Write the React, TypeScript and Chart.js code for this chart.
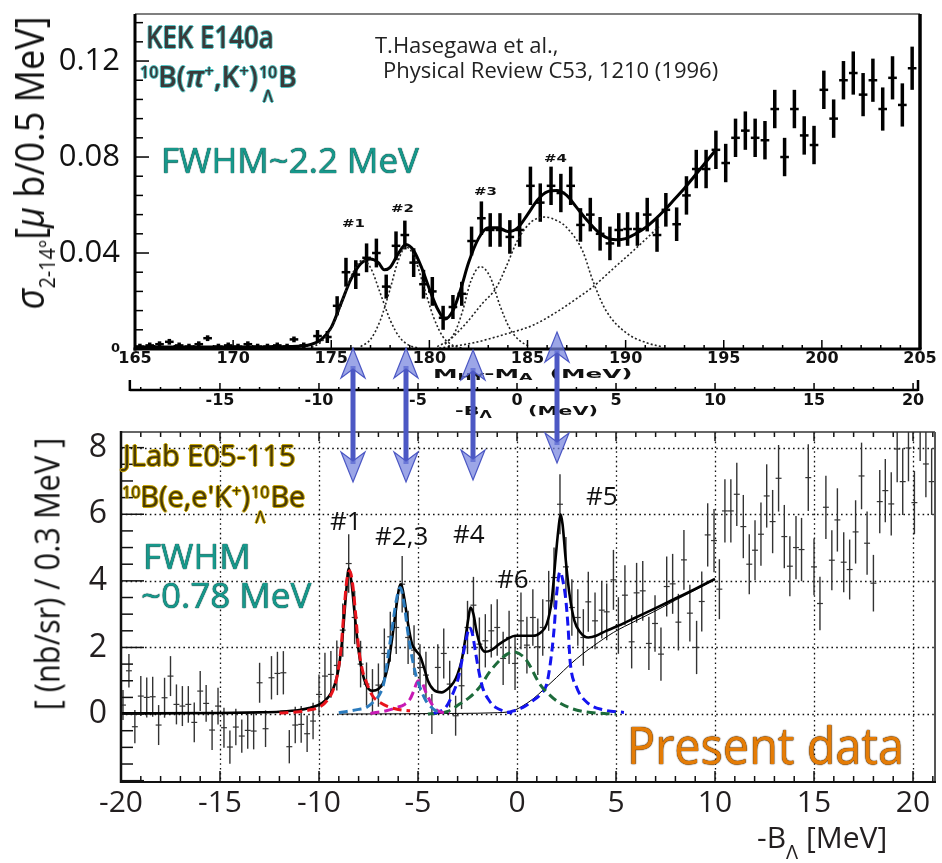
import React, { useEffect, useRef } from "react";
import { Chart, registerables } from "chart.js";

Chart.register(...registerables);

const OPEN = '"Open Sans", "DejaVu Sans", sans-serif';
const DEJA = '"DejaVu Sans", sans-serif';

// ================= Top panel : KEK E140a (pi+,K+) =================
const kekMass = [
  165.25, 165.75, 166.25, 166.75, 167.25, 167.75, 168.25, 168.7, 169.25, 169.75,
  170.25, 170.75, 171.25, 171.75, 172.25, 172.75, 173.1, 173.6,
  174.3, 174.8, 175.3, 175.75, 176.25, 176.8, 177.3, 177.8, 178.3, 178.75,
  179.2, 179.7, 180.15, 180.7, 181.2, 181.65, 182.15, 182.65, 183.1, 183.6,
  184.1, 184.6, 185.15, 185.65, 186.2, 186.7, 187.2, 187.7, 188.2, 188.7,
  189.2, 189.65, 190.1, 190.6, 191.1, 191.6, 192.05, 192.6, 193.1, 193.6,
  194.1, 194.6, 195.1, 195.6, 196.1, 196.6, 197.1, 197.6, 198.1, 198.6,
  199.1, 199.6, 200.1, 200.6, 201.1, 201.6, 202.1, 202.6, 203.1, 203.6,
  204.1, 204.6,
];
const kekSigma = [
  0.001, 0.0015, 0.002, 0.003, 0.0015, 0.001, 0.002, 0.0045, 0.001, 0.0015,
  0.001, 0.002, 0.001, 0.001, 0.0015, 0.001, 0.004, 0.0015,
  0.0054, 0.005, 0.018, 0.032, 0.031, 0.038, 0.04, 0.026, 0.043, 0.0475,
  0.036, 0.027, 0.024, 0.013, 0.0175, 0.023, 0.045, 0.0545, 0.0496, 0.0496,
  0.0467, 0.0496, 0.068, 0.061, 0.068, 0.065, 0.068, 0.0517, 0.056, 0.048,
  0.044, 0.0496, 0.05, 0.05, 0.056, 0.0475, 0.058, 0.052, 0.064, 0.075,
  0.075, 0.083, 0.0775, 0.088, 0.091, 0.088, 0.087, 0.1, 0.08, 0.1,
  0.089, 0.085, 0.108, 0.096, 0.112, 0.115, 0.106, 0.112, 0.1, 0.113,
  0.1017, 0.117,
];
const kekSigmaErr = [
  0.0012, 0.0012, 0.0012, 0.0012, 0.0012, 0.0012, 0.0012, 0.0012, 0.0012, 0.0012,
  0.0012, 0.0012, 0.0012, 0.0012, 0.0012, 0.0012, 0.0012, 0.0012,
  0.0025, 0.0025, 0.004, 0.006, 0.006, 0.006, 0.006, 0.005, 0.006, 0.006,
  0.006, 0.006, 0.006, 0.005, 0.005, 0.005, 0.006, 0.007, 0.007, 0.007,
  0.007, 0.007, 0.008, 0.008, 0.008, 0.008, 0.008, 0.007, 0.007, 0.007,
  0.007, 0.007, 0.007, 0.007, 0.007, 0.007, 0.007, 0.007, 0.008, 0.008,
  0.008, 0.008, 0.008, 0.008, 0.008, 0.008, 0.008, 0.008, 0.008, 0.008,
  0.008, 0.008, 0.008, 0.008, 0.008, 0.009, 0.009, 0.009, 0.009, 0.009,
  0.009, 0.009,
];
const kekFitMass = [
  165, 170, 173, 174, 174.5, 175, 175.5, 176, 176.5, 177,
  177.4, 177.7, 178, 178.4, 178.8, 179.2, 179.6, 180, 180.4, 180.8,
  181.2, 181.6, 182, 182.5, 183, 183.5, 184, 184.5, 185, 185.5,
  186, 186.5, 187, 187.5, 188, 188.5, 189, 189.5, 190, 190.5,
  191, 191.5, 192, 192.5, 193, 193.5, 194, 194.6,
];
const kekFitSigma = [
  0.0008, 0.0008, 0.001, 0.002, 0.004, 0.009, 0.019, 0.029, 0.0355, 0.0375,
  0.036, 0.033, 0.034, 0.0395, 0.0435, 0.041, 0.034, 0.025, 0.017, 0.0125,
  0.016, 0.025, 0.036, 0.046, 0.0505, 0.0505, 0.049, 0.0505, 0.056, 0.062,
  0.0655, 0.066, 0.064, 0.059, 0.054, 0.0495, 0.0465, 0.0455, 0.046, 0.048,
  0.0505, 0.054, 0.058, 0.0625, 0.067, 0.072, 0.077, 0.083,
];
const kekPeak1Mass = [174, 174.5, 175, 175.5, 176, 176.6, 177, 177.5, 178, 178.5, 179, 179.5];
const kekPeak1Sigma = [0.0007, 0.003, 0.0085, 0.0185, 0.03, 0.037, 0.0339, 0.0232, 0.0121, 0.0047, 0.0014, 0.0003];
const kekPeak2Mass = [176.5, 177, 177.5, 178, 178.4, 178.8, 179.2, 179.7, 180.2, 180.7, 181.2, 181.7];
const kekPeak2Sigma = [0.001, 0.004, 0.012, 0.025, 0.0365, 0.0425, 0.039, 0.0265, 0.0135, 0.005, 0.0015, 0.0003];
const kekPeak3Mass = [180.8, 181.3, 181.7, 182.1, 182.6, 183.1, 183.6, 184.1, 184.6, 185.1];
const kekPeak3Sigma = [0.002, 0.007, 0.016, 0.028, 0.0343, 0.03, 0.018, 0.0085, 0.0035, 0.001];
const kekPeak4Mass = [180.4, 181.05, 181.9, 182.7, 183.4, 183.9, 184.5, 185.2, 185.9, 186.5, 186.95, 187.8, 188.35, 189, 190.05, 191.1, 191.8];
const kekPeak4Sigma = [0.001, 0.004, 0.011, 0.019, 0.0254, 0.034, 0.0454, 0.053, 0.055, 0.0535, 0.051, 0.041, 0.028, 0.016, 0.0066, 0.0025, 0.001];
const kekBgMass = [180.5, 182.2, 183.8, 185.3, 186.6, 187.5, 188.35, 189.3, 190.4, 191.7];
const kekBgSigma = [0.0003, 0.0025, 0.006, 0.01, 0.016, 0.021, 0.026, 0.033, 0.041, 0.051];

const kekMassTicks = [165, 170, 175, 180, 185, 190, 195, 200, 205];
const kekBindingTicks = [-15, -10, -5, 0, 5, 10, 15, 20];
const kekSigmaTicks = [0, 0.04, 0.08, 0.12];

// ================= Bottom panel : JLab E05-115 (e,e'K+) =================
const jlabBL = [
  -19.9, -19.6, -19.3, -19.0, -18.7, -18.4, -18.1, -17.8, -17.5, -17.2,
  -16.9, -16.6, -16.3, -16.0, -15.7, -15.4, -15.1, -14.8, -14.5, -14.2,
  -13.9, -13.6, -13.3, -13.0, -12.7, -12.4, -12.1, -11.8, -11.5, -11.2,
  -10.9, -10.6, -10.3, -10.0, -9.7, -9.4, -9.1, -8.8, -8.5, -8.2,
  -7.9, -7.6, -7.3, -7.0, -6.7, -6.4, -6.1, -5.8, -5.5, -5.2,
  -4.9, -4.6, -4.3, -4.0, -3.7, -3.4, -3.1, -2.8, -2.5, -2.2,
  -1.9, -1.6, -1.3, -1.0, -0.7, -0.4, -0.1, 0.2, 0.5, 0.8,
  1.05, 1.3, 1.6, 1.87, 2.17, 2.47, 2.77, 3.07, 3.35, 3.6,
  3.94, 4.28, 4.53, 4.87, 5.12, 5.45, 5.79, 6.04, 6.35, 6.66,
  6.97, 7.27, 7.56, 7.86, 8.15, 8.43, 8.73, 9.07, 9.33, 9.63,
  9.95, 10.22, 10.5, 10.8, 11.1, 11.43, 11.73, 12.02, 12.32, 12.61,
  12.91, 13.21, 13.5, 13.78, 14.09, 14.37, 14.71, 15.0, 15.3, 15.6,
  15.9, 16.18, 16.5, 16.8, 17.1, 17.4, 17.68, 18.0, 18.32, 18.6,
  18.9, 19.2, 19.48, 19.77, 20.07, 20.36, 20.65, 20.94,
];
const jlabCounts = [
  0.27, 1.3, -0.38, 0.54, 0.5, 0.52, -0.33, 0.49, 1.14, 0.29,
  0.24, 0.29, -0.25, 0.69, 0.32, -0.48, 0.24, -0.41, -0.99, -0.39,
  -0.66, -0.49, -0.51, 0.94, -0.44, 1.09, 1.22, 1.24, -0.98, -0.33,
  -0.31, -0.59, -0.21, 0.59, 1.14, 1.19, 1.46, 2.52, 4.52, 2.9,
  1.5, 0.9, 0.7, 0.87, 1.82, 2.32, 2.6, 3.9, 2.3, 1.92,
  1.4, 1.17, 0.0, 1.4, 1.82, 0.9, -0.05, 0.85, 2.6, 3.27,
  2.1, 2.2, 2.5, 2.6, 1.67, 2.3, 1.52, 2.8, 2.07, 2.9,
  2.02, 2.6, 3.4, 4.1, 6.3, 4.42, 3.2, 2.9, 2.3, 3.37,
  2.8, 3.12, 3.07, 4.03, 2.66, 3.57, 2.17, 3.64, 3.7, 2.12,
  2.72, 1.8, 3.83, 3.91, 2.76, 4.63, 3.03, 2.0, 3.38, 5.38,
  5.21, 3.75, 6.1, 6.1, 6.6, 5.63, 4.5, 4.92, 5.4, 6.55,
  5.78, 7.08, 5.33, 4.44, 5.0, 4.94, 7.1, 4.42, 3.32, 6.21,
  4.62, 5.83, 4.56, 4.34, 5.47, 7.15, 5.13, 3.93, 6.38, 6.71,
  6.31, 7.96, 6.98, 7.99, 6.35, 8.6, 7.51, 6.98,
];
const jlabErr = [
  0.45, 0.5, 0.5, 0.6, 0.6, 0.6, 0.6, 0.6, 0.6, 0.6,
  0.6, 0.55, 0.6, 0.6, 0.55, 0.6, 0.55, 0.6, 0.5, 0.55,
  0.5, 0.55, 0.55, 0.6, 0.55, 0.65, 0.65, 0.65, 0.5, 0.55,
  0.55, 0.55, 0.55, 0.6, 0.7, 0.7, 0.75, 0.8, 0.88, 0.8,
  0.7, 0.65, 0.65, 0.65, 0.75, 0.75, 0.8, 0.85, 0.8, 0.75,
  0.7, 0.7, 0.6, 0.7, 0.75, 0.7, 0.6, 0.7, 0.8, 0.85,
  0.8, 0.8, 0.8, 0.85, 0.8, 0.8, 0.8, 0.85, 0.85, 0.85,
  0.85, 0.85, 0.9, 0.9, 0.9, 0.9, 0.85, 0.85, 0.85, 0.9,
  0.85, 0.85, 0.85, 0.9, 0.85, 0.9, 0.8, 0.9, 0.9, 0.8,
  0.85, 0.8, 0.9, 0.9, 0.85, 0.9, 0.85, 0.8, 0.9, 0.95,
  0.95, 0.9, 0.95, 0.95, 0.95, 0.95, 0.9, 0.9, 0.95, 0.95,
  0.95, 1.0, 0.95, 0.9, 0.95, 0.95, 1.0, 0.85, 0.8, 0.95,
  0.9, 0.95, 0.9, 0.9, 0.95, 1.0, 0.95, 0.85, 0.95, 0.95,
  0.95, 1.0, 1.0, 1.0, 0.95, 1.0, 1.0, 1.0,
];
const fitTotalBL = [
  -20, -15, -13, -12, -11, -10.5, -10, -9.7, -9.4, -9.2,
  -9.0, -8.8, -8.65, -8.5, -8.35, -8.2, -8.0, -7.85, -7.6, -7.3,
  -7.0, -6.75, -6.5, -6.3, -6.1, -5.95, -5.85, -5.7, -5.5, -5.3,
  -5.1, -4.9, -4.7, -4.5, -4.2, -3.8, -3.5, -3.2, -3.0, -2.8,
  -2.6, -2.45, -2.35, -2.2, -2.05, -1.85, -1.6, -1.3, -0.9, -0.5,
  -0.1, 0.3, 0.8, 1.2, 1.5, 1.75, 1.95, 2.1, 2.2, 2.3,
  2.45, 2.65, 2.9, 3.2, 3.6, 4.0, 4.5, 5.0, 6, 7,
  8, 9, 10,
];
const fitTotalCounts = [
  0.02, 0.03, 0.05, 0.07, 0.12, 0.18, 0.28, 0.4, 0.62, 0.9,
  1.4, 2.4, 3.5, 4.37, 3.9, 3.0, 1.9, 1.35, 0.85, 0.7,
  0.75, 0.95, 1.5, 2.3, 3.2, 3.8, 3.9, 3.5, 2.7, 2.1,
  1.9, 1.75, 1.4, 1.0, 0.72, 0.65, 0.75, 0.95, 1.2, 1.6,
  2.3, 2.9, 3.2, 3.0, 2.5, 2.05, 1.87, 1.92, 2.1, 2.25,
  2.35, 2.35, 2.35, 2.45, 2.7, 3.4, 4.7, 5.6, 6.0, 5.7,
  4.7, 3.6, 2.8, 2.45, 2.3, 2.35, 2.5, 2.62, 2.9, 3.18,
  3.47, 3.76, 4.06,
];
const fitBgBL = [-9, -3, -1, -0.5, -0.1, 0.3, 0.8, 1.35, 2.0, 2.7, 3.3, 3.87, 4.87, 6, 7, 8, 9, 10];
const fitBgCounts = [0.0, 0.02, 0.04, 0.06, 0.12, 0.25, 0.45, 0.74, 1.1, 1.5, 1.8, 2.05, 2.45, 2.8, 3.1, 3.42, 3.72, 4.03];
const peak1BL = [-12, -11, -10.5, -10, -9.6, -9.3, -9.1, -8.9, -8.75, -8.6, -8.45, -8.3, -8.15, -8.0, -7.8, -7.6, -7.3, -7.0, -6.5, -6.0, -5.4];
const peak1Counts = [0.03, 0.07, 0.12, 0.2, 0.4, 0.7, 1.1, 1.9, 3.0, 4.0, 4.3, 3.9, 3.0, 2.0, 1.3, 0.95, 0.55, 0.38, 0.22, 0.14, 0.1];
const peak2BL = [-9.0, -8.0, -7.6, -7.2, -6.93, -6.7, -6.5, -6.3, -6.1, -5.9, -5.7, -5.5, -5.3, -5.1, -4.9, -4.6, -4.4, -4.1, -3.9];
const peak2Counts = [0.04, 0.14, 0.2, 0.4, 0.6, 1.0, 1.8, 2.6, 3.4, 3.8, 3.3, 2.4, 1.7, 1.15, 0.8, 0.4, 0.25, 0.1, 0.05];
const peak3BL = [-7.4, -6.6, -6.05, -5.7, -5.4, -5.2, -5.0, -4.8, -4.6, -4.3, -4.0, -3.4];
const peak3Counts = [0.02, 0.1, 0.2, 0.28, 0.45, 0.72, 1.0, 0.95, 0.65, 0.3, 0.1, 0.02];
const peak4BL = [-4.2, -3.6, -3.25, -3.0, -2.75, -2.55, -2.4, -2.25, -2.08, -1.9, -1.74, -1.4, -1.08, -0.6, -0.24];
const peak4Counts = [0.02, 0.2, 0.6, 1.0, 1.7, 2.3, 2.6, 2.4, 1.8, 1.2, 0.8, 0.4, 0.2, 0.08, 0.03];
const peak6BL = [-4.5, -3.5, -2.9, -2.4, -1.9, -1.4, -0.9, -0.5, -0.2, 0.1, 0.5, 1.13, 1.6, 2.06, 2.7, 3.41, 4.4, 5.0];
const peak6Counts = [0.0, 0.08, 0.3, 0.5, 0.8, 1.25, 1.6, 1.8, 1.87, 1.82, 1.6, 0.92, 0.6, 0.37, 0.18, 0.07, 0.02, 0.0];
const peak5BL = [-0.5, 0.3, 0.8, 1.2, 1.5, 1.7, 1.88, 2.0, 2.17, 2.35, 2.47, 2.58, 2.68, 3.0, 3.5, 4.4, 5.4];
const peak5Counts = [0.04, 0.2, 0.4, 0.6, 0.9, 1.6, 2.6, 3.6, 4.27, 3.9, 3.4, 2.6, 1.6, 0.82, 0.37, 0.12, 0.05];

const jlabXTicks = [-20, -15, -10, -5, 0, 5, 10, 15, 20];
const jlabYTicks = [0, 2, 4, 6, 8];

// arrows linking the peaks (page x, top tip y, bottom tip y)
const linkArrows = [
  [353, 348, 482],
  [406, 348, 482],
  [473, 350, 480],
  [557, 332, 463],
];

// ---------------- helpers ----------------
const xy = (xs: number[], ys: number[]) => xs.map((x, i) => ({ x, y: ys[i] }));

const curve = (label: string, xs: number[], ys: number[], color: string, width: number, dash: number[] = []) => ({
  label,
  data: xy(xs, ys),
  showLine: true,
  borderColor: color,
  backgroundColor: color,
  borderWidth: width,
  borderDash: dash,
  pointRadius: 0,
  pointHoverRadius: 0,
  fill: false,
  cubicInterpolationMode: "monotone",
});

function line(ctx: CanvasRenderingContext2D, x1: number, y1: number, x2: number, y2: number) {
  ctx.beginPath();
  ctx.moveTo(x1, y1);
  ctx.lineTo(x2, y2);
  ctx.stroke();
}

const errorBarPlugin = {
  id: "errorBars",
  beforeDatasetsDraw(chart: any) {
    const { ctx, chartArea: a, scales } = chart;
    const sx = scales.x;
    const sy = scales.y;
    ctx.save();
    ctx.beginPath();
    ctx.rect(a.left, a.top, a.right - a.left, a.bottom - a.top);
    ctx.clip();
    chart.data.datasets.forEach((ds: any) => {
      const eb = ds.errorBars;
      if (!eb) return;
      ctx.strokeStyle = eb.color;
      ds.data.forEach((p: any, i: number) => {
        const e = eb.err[i];
        const px = sx.getPixelForValue(p.x);
        const py = sy.getPixelForValue(p.y);
        ctx.lineWidth = eb.width;
        line(ctx, px, sy.getPixelForValue(p.y - e), px, sy.getPixelForValue(p.y + e));
        ctx.lineWidth = eb.capWidth;
        line(ctx, sx.getPixelForValue(p.x - eb.halfBin), py, sx.getPixelForValue(p.x + eb.halfBin), py);
      });
    });
    ctx.restore();
  },
};

const kekFramePlugin = {
  id: "kekFrame",
  afterDatasetsDraw(chart: any) {
    const { ctx, chartArea: a, scales } = chart;
    const sx = scales.x;
    const sy = scales.y;
    const s2 = scales.x2;
    ctx.save();
    ctx.strokeStyle = "#000";
    ctx.lineWidth = 1.5;
    for (let k = 0; k <= 17; k++) {
      const py = sy.getPixelForValue(k * 0.008);
      line(ctx, a.left, py, a.left + (k % 5 === 0 ? 14 : 8), py);
    }
    for (let m = 165; m <= 205; m++) {
      const px = sx.getPixelForValue(m);
      line(ctx, px, a.bottom, px, a.bottom - (m % 5 === 0 ? 9 : 4));
    }
    ctx.strokeStyle = "#555";
    ctx.lineWidth = 1.5;
    line(ctx, a.left, a.top, a.right, a.top);
    ctx.strokeStyle = "#000";
    ctx.lineWidth = 3;
    line(ctx, a.left, a.top, a.left, a.bottom + 1.5);
    line(ctx, a.left - 1.5, a.bottom, a.right + 1.5, a.bottom);
    ctx.lineWidth = 3.5;
    line(ctx, a.right, a.top, a.right, a.bottom);
    // secondary -B_Lambda axis
    const yb = 390;
    const xl = s2.getPixelForValue(-19.55);
    const xr = s2.getPixelForValue(20.25);
    ctx.lineWidth = 2.5;
    line(ctx, xl, yb, xr, yb);
    line(ctx, xl, yb - 10, xl, yb + 1);
    line(ctx, xr, yb - 10, xr, yb + 1);
    ctx.lineWidth = 1.5;
    for (let b = -19; b <= 20; b++) {
      const px = s2.getPixelForValue(b);
      line(ctx, px, yb, px, yb - (b % 5 === 0 ? 7 : 3));
    }
    ctx.restore();
  },
};

const jlabFramePlugin = {
  id: "jlabFrame",
  beforeDatasetsDraw(chart: any) {
    const { ctx, chartArea: a, scales } = chart;
    const sx = scales.x;
    const sy = scales.y;
    ctx.save();
    ctx.strokeStyle = "#111";
    ctx.lineWidth = 1.3;
    ctx.setLineDash([1.6, 3.2]);
    for (let v = -15; v <= 20; v += 5) {
      const px = Math.round(sx.getPixelForValue(v)) + 0.5;
      line(ctx, px, a.top, px, a.bottom);
    }
    for (let v = 0; v <= 8; v += 2) {
      const py = Math.round(sy.getPixelForValue(v)) + 0.5;
      line(ctx, a.left, py, a.right, py);
    }
    ctx.restore();
  },
  afterDatasetsDraw(chart: any) {
    const { ctx, chartArea: a, scales } = chart;
    const sx = scales.x;
    const sy = scales.y;
    ctx.save();
    ctx.strokeStyle = "#111";
    ctx.lineWidth = 1.5;
    for (let v = -20; v <= 21; v++) {
      const px = sx.getPixelForValue(v);
      const major = v % 5 === 0;
      line(ctx, px, a.bottom, px, a.bottom - (major ? 11 : 6));
      line(ctx, px, a.top, px, a.top + (major ? 9 : 5));
    }
    for (let k = -4; k <= 16; k++) {
      const v = k * 0.5;
      const py = sy.getPixelForValue(v);
      const major = k % 4 === 0;
      line(ctx, a.left, py, a.left + (major ? 23 : 12), py);
    }
    ctx.lineWidth = 1.5;
    ctx.strokeStyle = "#333";
    line(ctx, a.left, a.top, a.right, a.top);
    ctx.lineWidth = 2;
    ctx.strokeStyle = "#555";
    line(ctx, a.right, a.top, a.right, a.bottom);
    ctx.strokeStyle = "#111";
    line(ctx, a.left, a.bottom, a.right + 1, a.bottom);
    ctx.lineWidth = 2.5;
    line(ctx, a.left, a.top - 1, a.left, a.bottom + 1);
    ctx.restore();
  },
};

const fixedAxis = (size: number, horizontal: boolean) => (s: any) => {
  if (horizontal) s.height = size;
  else s.width = size;
  s.paddingLeft = 0;
  s.paddingRight = 0;
  s.paddingTop = 0;
  s.paddingBottom = 0;
};

function makeTop(canvas: HTMLCanvasElement) {
  const bold = { family: DEJA, size: 16, weight: "bold" };
  return new Chart(canvas, {
    type: "scatter",
    data: {
      datasets: [
        {
          label: "KEK E140a data",
          data: xy(kekMass, kekSigma),
          showLine: false,
          pointRadius: 0,
          pointHoverRadius: 0,
          errorBars: { err: kekSigmaErr, width: 3.5, capWidth: 2.5, halfBin: 0.22, color: "#000" },
        } as any,
        curve("peak #1", kekPeak1Mass, kekPeak1Sigma, "#222", 1.6, [2, 2.2]),
        curve("peak #2", kekPeak2Mass, kekPeak2Sigma, "#222", 1.6, [2, 2.2]),
        curve("peak #3", kekPeak3Mass, kekPeak3Sigma, "#222", 1.6, [2, 2.2]),
        curve("peak #4", kekPeak4Mass, kekPeak4Sigma, "#222", 1.6, [2, 2.2]),
        curve("background", kekBgMass, kekBgSigma, "#222", 1.6, [2, 2.2]),
        curve("fit", kekFitMass, kekFitSigma, "#000", 3),
      ],
    },
    options: {
      animation: false,
      responsive: false,
      devicePixelRatio: 1,
      events: [],
      layout: { padding: { left: 0, right: 22, top: 14, bottom: 0 } },
      plugins: { legend: { display: false }, tooltip: { enabled: false } },
      scales: {
        x: {
          type: "linear",
          position: "bottom",
          weight: 0,
          min: 165,
          max: 205,
          afterBuildTicks: (s: any) => {
            s.ticks = kekMassTicks.map((v) => ({ value: v }));
          },
          afterFit: fixedAxis(30, true),
          grid: { display: false, drawTicks: false },
          border: { display: false },
          ticks: { padding: 0, font: bold, color: "#111", maxRotation: 0, autoSkip: false },
        },
        x2: {
          type: "linear",
          position: "bottom",
          weight: 1,
          min: -19.29,
          max: 20.35,
          afterBuildTicks: (s: any) => {
            s.ticks = kekBindingTicks.map((v) => ({ value: v }));
          },
          afterFit: fixedAxis(41, true),
          grid: { display: false, drawTicks: false },
          border: { display: false },
          ticks: { padding: 12, font: bold, color: "#111", maxRotation: 0, autoSkip: false },
        },
        y: {
          type: "linear",
          min: 0,
          max: 0.1396,
          afterBuildTicks: (s: any) => {
            s.ticks = kekSigmaTicks.map((v) => ({ value: v }));
          },
          afterFit: fixedAxis(135, false),
          grid: { display: false, drawTicks: false },
          border: { display: false },
          ticks: {
            padding: 15,
            autoSkip: false,
            color: "#111",
            font: (c: any) =>
              c.tick && c.tick.value === 0
                ? { family: DEJA, size: 13, weight: "bold" }
                : { family: OPEN, size: 31 },
          },
        },
      },
    } as any,
    plugins: [errorBarPlugin, kekFramePlugin],
  } as any);
}

function makeBottom(canvas: HTMLCanvasElement) {
  return new Chart(canvas, {
    type: "scatter",
    data: {
      datasets: [
        {
          label: "JLab E05-115 data",
          data: xy(jlabBL, jlabCounts),
          showLine: false,
          pointRadius: 0,
          pointHoverRadius: 0,
          errorBars: { err: jlabErr, width: 1.4, capWidth: 1.2, halfBin: 0.15, color: "#333" },
        } as any,
        curve("#1", peak1BL, peak1Counts, "#e8141c", 3, [9, 5]),
        curve("#2", peak2BL, peak2Counts, "#2b7bbd", 3, [9, 5]),
        curve("#3", peak3BL, peak3Counts, "#c81ab4", 3, [9, 5]),
        curve("#4", peak4BL, peak4Counts, "#1414f0", 3, [9, 5]),
        curve("#6", peak6BL, peak6Counts, "#1d6b3b", 3, [9, 5]),
        curve("#5", peak5BL, peak5Counts, "#1414f0", 3, [9, 5]),
        curve("background", fitBgBL, fitBgCounts, "#000", 1),
        curve("fit", fitTotalBL, fitTotalCounts, "#000", 2.6),
      ],
    },
    options: {
      animation: false,
      responsive: false,
      devicePixelRatio: 1,
      events: [],
      layout: { padding: { left: 0, right: 7, top: 12, bottom: 0 } },
      plugins: { legend: { display: false }, tooltip: { enabled: false } },
      scales: {
        x: {
          type: "linear",
          position: "bottom",
          min: -20,
          max: 21.11,
          afterBuildTicks: (s: any) => {
            s.ticks = jlabXTicks.map((v) => ({ value: v }));
          },
          afterFit: fixedAxis(81, true),
          grid: { display: false, drawTicks: false },
          border: { display: false },
          ticks: { padding: 3, font: { family: OPEN, size: 30 }, color: "#231f20", maxRotation: 0, autoSkip: false },
        },
        y: {
          type: "linear",
          min: -2.04,
          max: 8.47,
          afterBuildTicks: (s: any) => {
            s.ticks = jlabYTicks.map((v) => ({ value: v }));
          },
          afterFit: fixedAxis(121, false),
          grid: { display: false, drawTicks: false },
          border: { display: false },
          ticks: { padding: 14, font: { family: OPEN, size: 32 }, color: "#231f20", autoSkip: false },
        },
      },
    } as any,
    plugins: [jlabFramePlugin, errorBarPlugin],
  } as any);
}

const abs = (left: number, top: number, extra: any = {}) => ({
  position: "absolute" as const,
  left,
  top,
  lineHeight: 1,
  whiteSpace: "nowrap" as const,
  ...extra,
});

const Sup = ({ children, size, dy }: any) => (
  <span style={{ display: "inline-block", verticalAlign: "top", fontSize: size, lineHeight: 1, position: "relative", top: dy }}>
    {children}
  </span>
);

const Stack = ({ top, bottom, size, dy, gap }: any) => (
  <span
    style={{
      display: "inline-flex",
      flexDirection: "column",
      alignItems: "center",
      verticalAlign: "top",
      fontSize: size,
      lineHeight: 1,
      position: "relative",
      top: dy,
      margin: "0 1px",
    }}
  >
    <span>{top}</span>
    <span style={{ marginTop: gap }}>{bottom}</span>
  </span>
);

const cyanOutline = "-1px 0 #55c4c4, 1px 0 #55c4c4, 0 -1px #55c4c4, 0 1px #55c4c4";
const yellowOutline = "-1px 0 #c9a80a, 1px 0 #c9a80a, 0 -1px #c9a80a, 0 1px #c9a80a";
const darkEdge = "0 0 1px #063f3a, 0 0 1px #063f3a";
const teal = "#17988b";

export default function App() {
  const topRef = useRef<HTMLCanvasElement>(null);
  const botRef = useRef<HTMLCanvasElement>(null);

  useEffect(() => {
    const charts: Chart[] = [];
    if (topRef.current) charts.push(makeTop(topRef.current));
    if (botRef.current) charts.push(makeBottom(botRef.current));
    return () => charts.forEach((c) => c.destroy());
  }, []);

  return (
    <div style={{ position: "absolute", left: 0, top: 0, width: 942, height: 863, background: "#fff", overflow: "hidden" }}>
      <canvas ref={topRef} width={942} height={420} style={{ position: "absolute", left: 0, top: 0, width: 942, height: 420 }} />
      <canvas ref={botRef} width={942} height={443} style={{ position: "absolute", left: 0, top: 420, width: 942, height: 443 }} />

      {/* ---------- top panel texts ---------- */}
      <div
        style={abs(29, 163, {
          transform: "translate(-50%,-50%) rotate(-90deg) scaleX(0.9)",
          fontFamily: OPEN,
          fontSize: 40,
          color: "#111",
        })}
      >
        <i>σ</i>
        <span style={{ fontSize: 22, position: "relative", top: 11 }}>2-14°</span>[<i>μ</i> b/0.5 MeV]
      </div>
      <div style={abs(146, 22, { fontFamily: OPEN, fontSize: 30, fontWeight: 600, color: "#3a3a3a", textShadow: cyanOutline, transform: "scaleX(0.86)", transformOrigin: "left top" })}>
        KEK E140a
      </div>
      <div style={abs(140, 62, { fontFamily: OPEN, fontSize: 28, fontWeight: 600, color: "#3a3a3a", textShadow: cyanOutline })}>
        <Sup size={16} dy={2}>10</Sup>B(<i>π</i>
        <Sup size={17} dy={0}>+</Sup>,K<Sup size={17} dy={0}>+</Sup>)
        <Stack top="10" bottom="Λ" size={16} dy={2} gap={8} />B
      </div>
      <div style={abs(375, 33, { fontFamily: OPEN, fontSize: 22, color: "#222" })}>T.Hasegawa et al.,</div>
      <div style={abs(383, 58, { fontFamily: OPEN, fontSize: 22, color: "#222" })}>Physical Review C53, 1210 (1996)</div>
      <div style={abs(161, 142, { fontFamily: OPEN, fontSize: 35, color: teal, textShadow: darkEdge })}>FWHM~2.2 MeV</div>

      {[
        ["#1", 342, 219],
        ["#2", 391, 204],
        ["#3", 474, 187],
        ["#4", 544, 154],
      ].map(([t, x, y]) => (
        <div
          key={t as string}
          style={abs(x as number, y as number, {
            fontFamily: DEJA,
            fontSize: 10,
            fontWeight: "bold",
            color: "#111",
            transform: "scaleX(1.5)",
            transformOrigin: "left top",
          })}
        >
          {t}
        </div>
      ))}

      <div style={abs(433, 367, { fontFamily: DEJA, fontSize: 13, fontWeight: "bold", color: "#111", transform: "scaleX(1.9)", transformOrigin: "left top" })}>
        M<Sup size={9} dy={6}>HY</Sup>-M<Sup size={9} dy={6}>A</Sup>&nbsp;&nbsp;(MeV)
      </div>
      <div style={abs(455, 404, { fontFamily: DEJA, fontSize: 13, fontWeight: "bold", color: "#111", transform: "scaleX(1.6)", transformOrigin: "left top" })}>
        -B<Sup size={10} dy={6}>Λ</Sup>&nbsp;&nbsp;&nbsp;&nbsp;&nbsp;(MeV)
      </div>

      {/* ---------- bottom panel texts ---------- */}
      <div
        style={abs(46, 574, {
          transform: "translate(-50%,-50%) rotate(-90deg) scaleX(0.88)",
          fontFamily: OPEN,
          fontSize: 35,
          color: "#111",
        })}
      >
        [ (nb/sr) / 0.3 MeV ]
      </div>
      <div style={abs(123, 440, { fontFamily: OPEN, fontSize: 29, color: "#4a3b06", textShadow: yellowOutline })}>JLab E05-115</div>
      <div style={abs(122, 481, { fontFamily: OPEN, fontSize: 29, color: "#4a3b06", textShadow: yellowOutline })}>
        <Sup size={16} dy={3}>10</Sup>B(e,e'K<Sup size={17} dy={1}>+</Sup>)
        <Stack top="10" bottom="Λ" size={16} dy={3} gap={9} />
        Be
      </div>
      <div style={abs(143, 538, { fontFamily: OPEN, fontSize: 35, color: teal, textShadow: darkEdge })}>FWHM</div>
      <div style={abs(141, 577, { fontFamily: OPEN, fontSize: 35, color: teal, textShadow: darkEdge })}>~0.78 MeV</div>

      {[
        ["#1", 330, 507],
        ["#2,3", 375, 522],
        ["#4", 453, 520],
        ["#6", 497, 565],
        ["#5", 586, 482],
      ].map(([t, x, y]) => (
        <div key={t as string} style={abs(x as number, y as number, { fontFamily: OPEN, fontSize: 26, color: "#111" })}>
          {t}
        </div>
      ))}

      <div
        style={abs(627, 718, {
          fontFamily: OPEN,
          fontSize: 52,
          color: "#e57c05",
          textShadow: "0 0 1.5px #3a2000, 0 0 1px #3a2000",
          transform: "scaleX(0.9)",
          transformOrigin: "left top",
        })}
      >
        Present data
      </div>
      <div style={abs(757, 822, { fontFamily: OPEN, fontSize: 30, color: "#231f20" })}>
        -B<Sup size={20} dy={20}>Λ</Sup>&nbsp;[MeV]
      </div>

      {/* ---------- linking arrows ---------- */}
      <svg width={942} height={863} style={{ position: "absolute", left: 0, top: 0, pointerEvents: "none" }}>
        {linkArrows.map(([x, y0, y1], i) => (
          <g key={i}>
            <rect x={x - 2.5} y={y0 + 18} width={5} height={y1 - y0 - 36} fill="#4c58c4" />
            <path
              d={`M${x},${y0} L${x + 12},${y0 + 30} L${x},${y0 + 21} L${x - 12},${y0 + 30} Z`}
              fill="rgba(118,132,222,0.72)"
              stroke="#4c58c4"
              strokeWidth={1.2}
            />
            <path
              d={`M${x},${y1} L${x + 12},${y1 - 30} L${x},${y1 - 21} L${x - 12},${y1 - 30} Z`}
              fill="rgba(118,132,222,0.72)"
              stroke="#4c58c4"
              strokeWidth={1.2}
            />
          </g>
        ))}
      </svg>
    </div>
  );
}
